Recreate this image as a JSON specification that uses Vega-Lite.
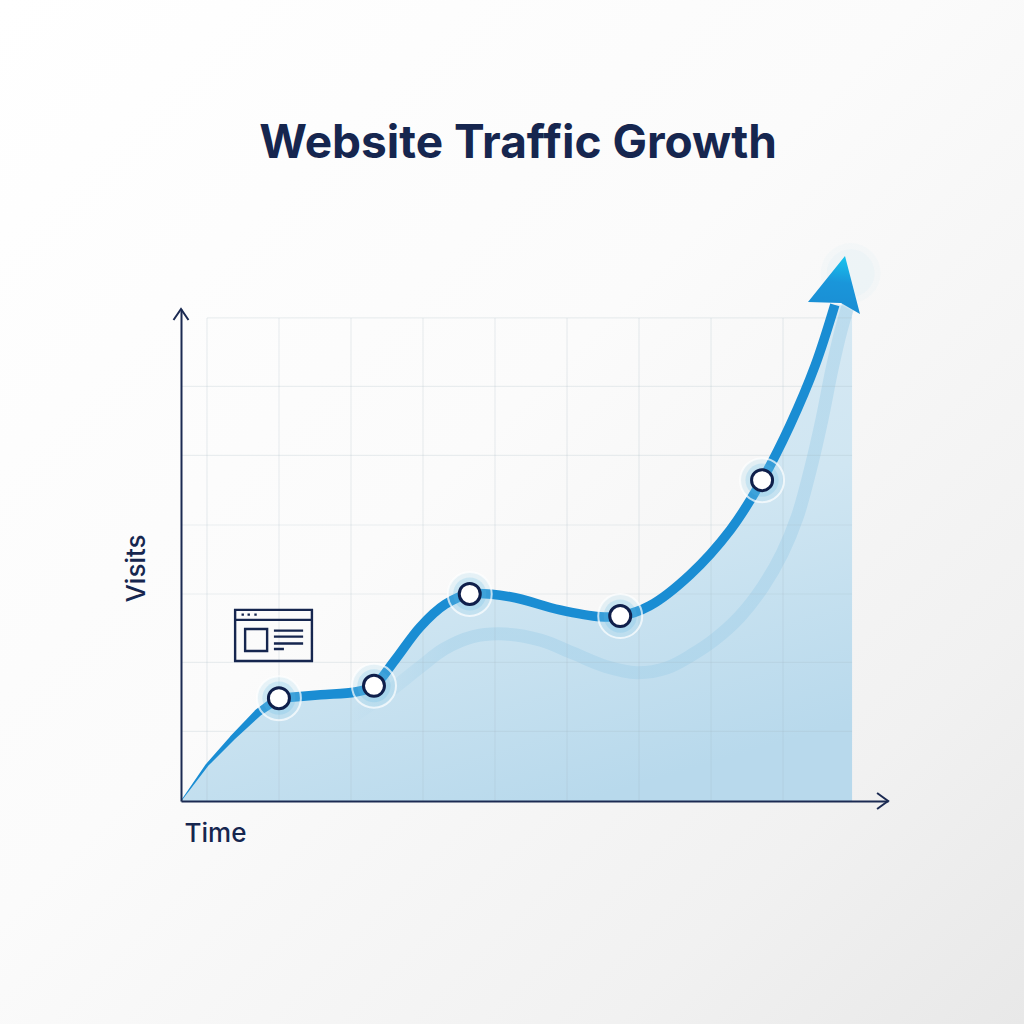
{
"$schema":"https://vega.github.io/schema/vega-lite/v6.json",
"width":707,"height":492,
"autosize":{"type":"none"},
"padding":{"left":181,"top":309,"right":136,"bottom":223},
"background":"#ffffff",
"config":{"view":{"stroke":null},"font":"Inter"},
"title":{"text":"Website Traffic Growth","font":"Inter","fontSize":46,"fontWeight":700,"color":"#16264f","anchor":"middle","frame":"group","dx":-16.5,"offset":-168},
"datasets":{
"main":[{"t":0,"v":0},{"t":0.36,"v":0.52},{"t":0.71,"v":0.91},{"t":1.07,"v":1.28},{"t":1.36,"v":1.49},{"t":1.94,"v":1.54},{"t":2.42,"v":1.58},{"t":2.68,"v":1.67},{"t":2.97,"v":2.04},{"t":3.32,"v":2.52},{"t":3.67,"v":2.85},{"t":4.01,"v":3.0},{"t":4.57,"v":2.96},{"t":5.26,"v":2.77},{"t":5.82,"v":2.67},{"t":6.1,"v":2.68},{"t":6.51,"v":2.83},{"t":7.07,"v":3.28},{"t":7.63,"v":3.93},{"t":8.07,"v":4.65},{"t":8.46,"v":5.45},{"t":8.81,"v":6.32},{"t":9.08,"v":7.19}],
"fill":[{"t":0,"v":0},{"t":0.36,"v":0.52},{"t":0.71,"v":0.91},{"t":1.07,"v":1.28},{"t":1.36,"v":1.49},{"t":1.94,"v":1.54},{"t":2.42,"v":1.58},{"t":2.68,"v":1.67},{"t":2.97,"v":2.04},{"t":3.32,"v":2.52},{"t":3.67,"v":2.85},{"t":4.01,"v":3.0},{"t":4.57,"v":2.96},{"t":5.26,"v":2.77},{"t":5.82,"v":2.67},{"t":6.1,"v":2.68},{"t":6.51,"v":2.83},{"t":7.07,"v":3.28},{"t":7.63,"v":3.93},{"t":8.07,"v":4.65},{"t":8.46,"v":5.45},{"t":8.81,"v":6.32},{"t":9.08,"v":7.19},{"t":9.32,"v":7.1}],
"band":[{"t":2.35,"v":1.2},{"t":2.83,"v":1.54},{"t":3.32,"v":1.94},{"t":3.65,"v":2.2},{"t":4.05,"v":2.38},{"t":4.5,"v":2.42},{"t":5.0,"v":2.33},{"t":5.45,"v":2.14},{"t":5.9,"v":1.95},{"t":6.33,"v":1.86},{"t":6.75,"v":1.93},{"t":7.1,"v":2.12},{"t":7.4,"v":2.33},{"t":7.76,"v":2.67},{"t":8.08,"v":3.1},{"t":8.35,"v":3.59},{"t":8.56,"v":4.12},{"t":8.74,"v":4.8},{"t":8.9,"v":5.52},{"t":9.04,"v":6.25},{"t":9.17,"v":6.83},{"t":9.29,"v":7.26}],
"markers":[{"t":1.36,"v":1.49},{"t":2.68,"v":1.67},{"t":4.01,"v":3.0},{"t":6.1,"v":2.68},{"t":8.07,"v":4.65}],
"vgrid":[{"t":0.361},{"t":1.361},{"t":2.361},{"t":3.361},{"t":4.361},{"t":5.361},{"t":6.361},{"t":7.361},{"t":8.361}],
"hgrid":[{"a":0.361,"b":9.32,"v":7.0},{"a":0,"b":9.32,"v":6.01},{"a":0,"b":9.32,"v":5.01},{"a":0,"b":9.32,"v":4.0},{"a":0,"b":9.32,"v":3.0},{"a":0,"b":9.32,"v":2.01},{"a":0,"b":9.32,"v":1.01}]
},
"layer":[
{"data":{"values":[{"a":-2.514,"b":11.708,"c":-3.232,"d":11.609}]},
 "mark":{"type":"rect","color":{"gradient":"linear","x1":0,"y1":0,"x2":1,"y2":1,"stops":[{"offset":0,"color":"#ffffff"},{"offset":0.45,"color":"#fbfbfb"},{"offset":0.8,"color":"#f1f1f1"},{"offset":1,"color":"#e8e8e8"}]}},
 "encoding":{
  "x":{"field":"a","type":"quantitative","scale":{"domain":[0,9.819],"nice":false,"zero":false},
   "axis":{"title":"Time","labels":false,"ticks":false,"grid":false,"domainColor":"#1b2a52","domainWidth":2,"zindex":1,"titleFont":"Inter","titleFontSize":26,"titleFontWeight":500,"titleColor":"#16264f","titleX":34,"titleY":32,"titleAlign":"center","titleBaseline":"middle"}},
  "x2":{"field":"b"},
  "y":{"field":"c","type":"quantitative","scale":{"domain":[0,7.13],"nice":false,"zero":false},
   "axis":{"title":"Visits","labels":false,"ticks":false,"grid":false,"domainColor":"#1b2a52","domainWidth":2,"zindex":1,"titleFont":"Inter","titleFontSize":26,"titleFontWeight":500,"titleColor":"#16264f","titleX":-45,"titleY":259,"titleAlign":"center","titleBaseline":"middle"}},
  "y2":{"field":"d"}}},
{"data":{"name":"fill"},
 "mark":{"type":"area","interpolate":"catmull-rom","color":{"gradient":"linear","x1":0.2,"y1":0,"x2":0.6,"y2":1,"stops":[{"offset":0,"color":"#dcebf4"},{"offset":0.55,"color":"#d0e6f2"},{"offset":1,"color":"#b8d9ec"}]}},
 "encoding":{"x":{"field":"t","type":"quantitative"},"y":{"field":"v","type":"quantitative"}}},
{"data":{"name":"band"},
 "mark":{"type":"line","interpolate":"catmull-rom","strokeWidth":13,
  "color":{"gradient":"linear","x1":0,"y1":0,"x2":1,"y2":0,"stops":[{"offset":0,"color":"rgba(163,208,233,0)"},{"offset":0.2,"color":"rgba(163,208,233,0.5)"},{"offset":1,"color":"rgba(163,208,233,0.5)"}]}},
 "encoding":{"x":{"field":"t","type":"quantitative"},"y":{"field":"v","type":"quantitative"}}},
{"data":{"name":"vgrid"},
 "mark":{"type":"rule","color":"#9fb4c0","opacity":0.2,"strokeWidth":1.2},
 "encoding":{"x":{"field":"t","type":"quantitative"},"y":{"datum":0,"type":"quantitative"},"y2":{"datum":7.0}}},
{"data":{"name":"hgrid"},
 "mark":{"type":"rule","color":"#9fb4c0","opacity":0.2,"strokeWidth":1.2},
 "encoding":{"x":{"field":"a","type":"quantitative"},"x2":{"field":"b"},"y":{"field":"v","type":"quantitative"}}},
{"data":{"name":"main"},
 "transform":[{"filter":"datum.t <= 1.36"}],
 "mark":{"type":"trail","color":"#1a8dd3"},
 "encoding":{"x":{"field":"t","type":"quantitative"},"y":{"field":"v","type":"quantitative"},
  "size":{"field":"t","type":"quantitative","legend":null,"scale":{"domain":[0,1.36],"range":[0.5,9.5]}}}},
{"data":{"name":"main"},
 "transform":[{"filter":"datum.t >= 1.36"}],
 "mark":{"type":"line","interpolate":"catmull-rom","color":"#1a8dd3","strokeWidth":9.5},
 "encoding":{"x":{"field":"t","type":"quantitative"},"y":{"field":"v","type":"quantitative"}}},
{"data":{"name":"markers"},
 "mark":{"type":"point","shape":"circle","filled":true,"size":1936,"fill":"#9ed4ef","fillOpacity":0.22,"stroke":"#ffffff","strokeOpacity":0.7,"strokeWidth":2},
 "encoding":{"x":{"field":"t","type":"quantitative"},"y":{"field":"v","type":"quantitative"}}},
{"data":{"name":"markers"},
 "mark":{"type":"point","shape":"circle","filled":true,"size":1100,"fill":"#5cb8e8","fillOpacity":0.2,"strokeWidth":0},
 "encoding":{"x":{"field":"t","type":"quantitative"},"y":{"field":"v","type":"quantitative"}}},
{"data":{"name":"markers"},
 "mark":{"type":"point","shape":"circle","filled":true,"size":441,"fill":"#ffffff","fillOpacity":1,"stroke":"#0f1f4b","strokeWidth":3,"strokeOpacity":1},
 "encoding":{"x":{"field":"t","type":"quantitative"},"y":{"field":"v","type":"quantitative"}}},
{"data":{"values":[{"t":9.3,"v":7.65}]},
 "mark":{"type":"point","shape":"circle","filled":true,"size":3600,"fill":"#c4e6f7","fillOpacity":0.08,"strokeWidth":0},
 "encoding":{"x":{"field":"t","type":"quantitative"},"y":{"field":"v","type":"quantitative"}}},
{"data":{"values":[{"t":9.3,"v":7.65}]},
 "mark":{"type":"point","shape":"circle","filled":true,"size":2300,"fill":"#b8e2f6","fillOpacity":0.1,"strokeWidth":0},
 "encoding":{"x":{"field":"t","type":"quantitative"},"y":{"field":"v","type":"quantitative"}}},
{"data":{"values":[{"t":9.083,"v":7.406}]},
 "mark":{"type":"point","filled":true,"size":3600,"strokeWidth":0,"fillOpacity":1,
  "shape":"M.333,-1.133L-.9,.4L.2,.433L.833,.8Z",
  "fill":{"gradient":"linear","x1":0.6,"y1":0,"x2":0.5,"y2":1,"stops":[{"offset":0,"color":"#16c4ee"},{"offset":0.45,"color":"#1a96da"},{"offset":1,"color":"#1a8dd3"}]}},
 "encoding":{"x":{"field":"t","type":"quantitative"},"y":{"field":"v","type":"quantitative"}}},
{"data":{"values":[{"t":9.82,"v":0}]},
 "mark":{"type":"point","size":400,"stroke":"#1b2a52","strokeWidth":2,"fill":null,"opacity":1,"shape":"M-1.1,-.8L0,0L-1.1,.8"},
 "encoding":{"x":{"field":"t","type":"quantitative"},"y":{"field":"v","type":"quantitative"}}},
{"data":{"values":[{"t":0,"v":7.13}]},
 "mark":{"type":"point","size":400,"stroke":"#1b2a52","strokeWidth":2,"fill":null,"opacity":1,"shape":"M-.75,1.1L0,0L.75,1.1"},
 "encoding":{"x":{"field":"t","type":"quantitative"},"y":{"field":"v","type":"quantitative"}}},
{"data":{"values":[{"t":1.285,"v":2.399}]},
 "mark":{"type":"point","size":6400,"stroke":"#16264f","strokeWidth":2.4,"fill":null,"opacity":1,
  "shape":"M-.96,-.64H.96V.64H-.96ZM-.96,-.39H.96M-.71,-.16H-.16V.39H-.71ZM.01,-.12H.74M.01,.03H.74M.01,.2H.74M.01,.34H.26M-.8,-.52H-.74M-.65,-.52H-.59M-.48,-.52H-.42"},
 "encoding":{"x":{"field":"t","type":"quantitative"},"y":{"field":"v","type":"quantitative"}}}
]
}
